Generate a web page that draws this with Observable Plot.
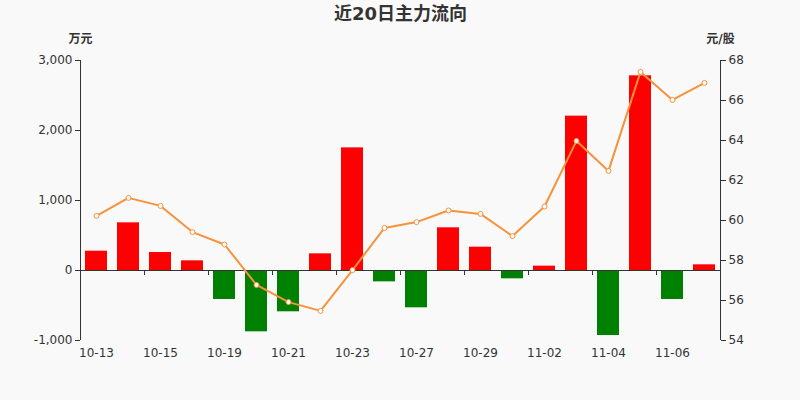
<!DOCTYPE html>
<html>
<head>
<meta charset="utf-8">
<script src="https://cdn.jsdelivr.net/npm/d3@7"></script>
<script src="https://cdn.jsdelivr.net/npm/@observablehq/plot@0.6"></script>
<style>
  html, body { margin: 0; padding: 0; background: #f9f9f9; }
</style>
</head>
<body>
<div id="chart"></div>
<script>
const dates = ["10-13","10-14","10-15","10-16","10-19","10-20","10-21","10-22","10-23","10-26","10-27","10-28","10-29","10-30","11-02","11-03","11-04","11-05","11-06","11-09"];
const flow = [276,681,257,138,-414,-876,-590,238,1752,-162,-533,610,333,-119,62,2205,-929,2781,-414,81];
const price = [60.23,61.13,60.73,59.42,58.8,56.78,55.92,55.48,57.52,59.63,59.92,60.5,60.33,59.22,60.7,63.98,62.48,67.43,66.03,66.88];
const flowTicks = [-1000,0,1000,2000,3000];
const priceTicks = [54,56,58,60,62,64,66,68];
const flowDomain = [-1000, 3000];
const priceDomain = [54, 68];

const title = "近20日主力流向";
const leftUnit = "万元";
const rightUnit = "元/股";

// map price onto the flow (left) y scale
const toY = p => (p - priceDomain[0]) / (priceDomain[1] - priceDomain[0]) * (flowDomain[1] - flowDomain[0]) + flowDomain[0];
const fromY = v => (v - flowDomain[0]) / (flowDomain[1] - flowDomain[0]) * (priceDomain[1] - priceDomain[0]) + priceDomain[0];

const data = dates.map((d, i) => ({date: d, flow: flow[i], price: price[i], py: toY(price[i])}));
const labelDates = dates.filter((d, i) => i % 2 === 0);
const tickDates = dates.filter((d, i) => i % 2 === 0 && i > 0);

const font = "'DejaVu Sans', 'Noto Sans CJK SC', sans-serif";
const txt = "#333333";
const lineColor = "#f7923a";

const chart = Plot.plot({
  width: 800,
  height: 400,
  marginLeft: 80,
  marginRight: 80,
  marginTop: 60,
  marginBottom: 60,
  style: {background: "#f9f9f9", fontFamily: font, fontSize: "12px", color: txt},
  x: {type: "band", domain: dates, paddingInner: 0.3, paddingOuter: 0.15, axis: null},
  y: {domain: flowDomain, axis: null},
  color: {type: "identity"},
  marks: [
    Plot.barY(data, {x: "date", y: "flow", fill: d => d.flow >= 0 ? "#ff0000" : "#008000"}),
    Plot.ruleY([0], {stroke: txt}),
    Plot.ruleX(tickDates, {x: d => d, dx: -16, y1: 0, y2: 0, insetBottom: -5, stroke: txt}),
    Plot.ruleX([dates[0]], {x: d => d, dx: -16, y1: flowDomain[0], y2: flowDomain[1], stroke: txt}),
    Plot.ruleX([dates[dates.length - 1]], {x: d => d, dx: 16, y1: flowDomain[0], y2: flowDomain[1], stroke: txt}),
    Plot.line(data, {x: "date", y: "py", stroke: lineColor, strokeWidth: 2}),
    Plot.dot(data, {x: "date", y: "py", r: 2.5, fill: "white", stroke: lineColor, strokeWidth: 1}),
    Plot.axisY(flowTicks, {anchor: "left", tickSize: 5, tickPadding: 3, fontSize: 12, label: null, tickFormat: v => v.toLocaleString("en-US")}),
    Plot.axisY(priceTicks.map(toY), {anchor: "right", tickSize: 5, tickPadding: 3, fontSize: 12, label: null, tickFormat: v => String(Math.round(fromY(v)))}),
    Plot.axisX(labelDates, {anchor: "bottom", tickSize: 0, tickPadding: 8, fontSize: 12, label: null}),
    Plot.text([title], {frameAnchor: "top", lineAnchor: "middle", dy: -46, fontSize: 18, fontWeight: "bold", fill: txt, textAnchor: "middle", style: "letter-spacing:1.5px"}),
    Plot.text([leftUnit], {frameAnchor: "top-left", lineAnchor: "middle", dy: -21, textAnchor: "middle", fontSize: 12, fontWeight: "bold", fill: txt}),
    Plot.text([rightUnit], {frameAnchor: "top-right", lineAnchor: "middle", dy: -21, textAnchor: "middle", fontSize: 12, fontWeight: "bold", fill: txt})
  ]
});
document.getElementById("chart").appendChild(chart);
</script>
</body>
</html>
